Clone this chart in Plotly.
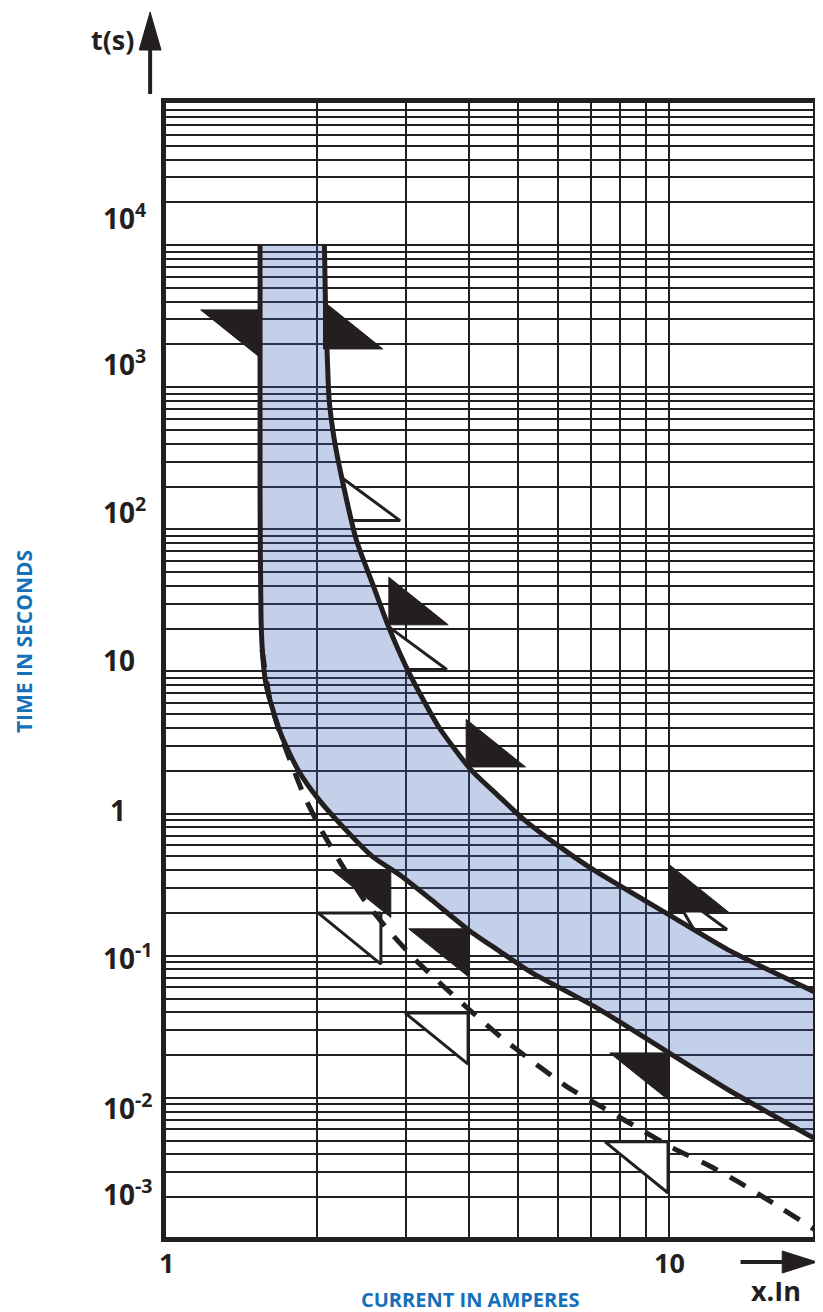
import numpy as np
import plotly.graph_objects as go

# ---------------- data ----------------
# upper boundary of the tripping band (multiple of In, time in s)
upper_x = [2.065, 2.074, 2.09, 2.11, 2.16, 2.24, 2.39, 2.57, 2.77, 3.04, 3.48,
           4.04, 4.56, 5.16, 6.0, 7.09, 10.0, 13.1, 19.6]
upper_t = [10000, 4100, 1800, 815, 430, 223, 84, 42, 20.6, 9.8, 4.1,
           2.03, 1.35, 0.90, 0.60, 0.40, 0.194, 0.11, 0.055]

# lower boundary of the tripping band
lower_x = [1.538, 1.538, 1.545, 1.559, 1.581, 1.624, 1.70, 1.83, 2.0, 2.21, 2.57,
           2.93, 3.37, 3.99, 4.56, 5.3, 7.18, 10.0, 13.1, 19.6]
lower_t = [10000, 161, 23, 12.1, 8.05, 5.64, 3.47, 2.03, 1.29, 0.86, 0.50,
           0.365, 0.247, 0.152, 0.110, 0.077, 0.043, 0.0207, 0.0114, 0.0051]

# dashed (cold-state) curve
dashed_x = [1.552, 1.609, 1.676, 1.763, 1.886, 2.046, 2.23, 2.476, 2.786, 3.148, 3.591,
            4.096, 4.628, 5.301, 6.27, 7.346, 8.61, 10.18, 11.94, 13.73, 16.09, 19.56]
dashed_t = [14.2, 6.31, 3.88, 2.39, 1.31, 0.743, 0.443, 0.247, 0.147, 0.0918, 0.0593,
            0.0389, 0.0268, 0.0185, 0.01195, 0.00863, 0.00624, 0.00443, 0.00337, 0.00256,
            0.00182, 0.00117]

# tolerance flags (anchor points on the curves)
black_right_x = [2.056, 2.773, 3.95, 10.0]
black_right_t = [1860, 21.3, 2.13, 0.203]
black_left_x = [1.538, 2.798, 3.985, 10.0]
black_left_t = [3500, 0.402, 0.1545, 0.0207]
white_right_x = [2.24, 2.773, 10.0]
white_right_t = [230, 20.6, 0.305]
white_left_x = [2.674, 3.985, 9.95]
white_left_t = [0.200, 0.0395, 0.0049]

# axes
x_tick_vals = [1, 10]
x_tick_text = ["1", "10"]
x_grid_vals = [2, 3, 4, 5, 6, 7, 8, 9]
y_decades = [1e-3, 1e-2, 1e-1, 1, 10, 100, 1e3, 1e4, 1e5]
y_label_text = ["10<sup>4</sup>", "10<sup>3</sup>", "10<sup>2</sup>", "10", "1",
                "10<sup>-1</sup>", "10<sup>-2</sup>", "10<sup>-3</sup>"]
y_label_pos = [4.199, 3.172, 2.130, 1.082, 0.026, -1.008, -2.064, -2.669]  # log10 positions

# ---------------- styles / layout ----------------
INK = "#231f20"
BLUE = "#1570BA"
BAND = "rgba(60,100,185,0.30)"
FONT = "Open Sans"
BLACK_W, BLACK_H = 0.118, 0.335        # flag size in decades
WHITE_R_W, WHITE_R_H = 0.115, 0.30
WHITE_L_W, WHITE_L_H = 0.125, 0.36

OFF = 8                      # page body margin
W, H = 823 - OFF, 1312 - OFF
PLOT_L, PLOT_R, PLOT_T, PLOT_B = 166, 818, 103, 1237   # window pixels (inner plot area)
ML, MR = PLOT_L - OFF, W - (PLOT_R - OFF)
MT, MB = PLOT_T - OFF, H - (PLOT_B - OFF)
X_RANGE = [0, (PLOT_R - PLOT_L) / 507.0]
Y_RANGE = [5 - (PLOT_B - PLOT_T) / 142.12, 5]
PW, PH = PLOT_R - PLOT_L, PLOT_B - PLOT_T


def px(x):
    return (x - PLOT_L) / PW


def py(y):
    return (PLOT_B - y) / PH


def upper_x_at(t):
    lt = np.log10(upper_t)[::-1]
    lx = np.log10(upper_x)[::-1]
    return 10 ** np.interp(np.log10(t), lt, lx)


def polys(list_of_vertices):
    xs, ys = [], []
    for verts in list_of_vertices:
        for vx, vy in verts + [verts[0]]:
            xs.append(vx)
            ys.append(vy)
        xs.append(None)
        ys.append(None)
    return xs, ys


fig = go.Figure()

# white flags (below the band)
wr = []
for x, t in zip(white_right_x, white_right_t):
    tb = t / 10 ** WHITE_R_H
    wr.append([(x, t), (x * 10 ** WHITE_R_W, tb), (upper_x_at(tb), tb)])
wl = []
for x, t in zip(white_left_x, white_left_t):
    wl.append([(x, t), (x / 10 ** WHITE_L_W, t), (x, t / 10 ** WHITE_L_H)])
xs, ys = polys(wr + wl)
fig.add_trace(go.Scatter(x=xs, y=ys, mode="lines", fill="toself", fillcolor="white",
                         line=dict(color=INK, width=3), hoverinfo="skip"))

# band fill
band_x = list(lower_x) + list(upper_x)[::-1]
band_t = list(lower_t) + list(upper_t)[::-1]
fig.add_trace(go.Scatter(x=band_x, y=band_t, mode="lines", fill="toself", fillcolor=BAND,
                         line=dict(width=0), hoverinfo="skip"))

# black flags
bl = []
for x, t in zip(black_right_x, black_right_t):
    bl.append([(x, t), (x, t * 10 ** BLACK_H), (x * 10 ** BLACK_W, t)])
for x, t in zip(black_left_x, black_left_t):
    bl.append([(x, t), (x / 10 ** BLACK_W, t), (x, t / 10 ** BLACK_H)])
xs, ys = polys(bl)
fig.add_trace(go.Scatter(x=xs, y=ys, mode="lines", fill="toself", fillcolor=INK,
                         line=dict(color=INK, width=1), hoverinfo="skip"))

# curves
fig.add_trace(go.Scatter(x=dashed_x, y=dashed_t, mode="lines",
                         line=dict(color=INK, width=5, dash="18px,14px", shape="spline", smoothing=0.6)))
fig.add_trace(go.Scatter(x=lower_x, y=lower_t, mode="lines",
                         line=dict(color=INK, width=5, shape="spline", smoothing=0.6)))
fig.add_trace(go.Scatter(x=upper_x, y=upper_t, mode="lines",
                         line=dict(color=INK, width=5, shape="spline", smoothing=0.6)))

y_minor = [k * d for d in y_decades[:-1] for k in range(2, 10)]

fig.update_xaxes(type="log", range=X_RANGE, tickmode="array", tickvals=x_tick_vals,
                 ticktext=x_tick_text, showticklabels=False, ticks="", showgrid=True,
                 gridcolor=INK, gridwidth=1.8,
                 minor=dict(tickmode="array", tickvals=x_grid_vals, showgrid=True,
                            gridcolor=INK, gridwidth=1.8, ticks=""),
                 showline=True, linecolor=INK, linewidth=5, mirror=True, zeroline=False)
fig.update_yaxes(type="log", range=Y_RANGE, tickmode="array", tickvals=y_decades,
                 showticklabels=False, ticks="", showgrid=True, gridcolor=INK, gridwidth=1.6,
                 minor=dict(tickmode="array", tickvals=y_minor, showgrid=True,
                            gridcolor=INK, gridwidth=1.6, ticks=""),
                 showline=True, linecolor=INK, linewidth=5, mirror=True, zeroline=False)

bold = dict(family=FONT, color=INK, weight="bold")
ann = []
for txt, pos in zip(y_label_text, y_label_pos):
    if txt == "1":
        ax, anc = px(118), "center"
    else:
        ax, anc = px(100), "left"
    ann.append(dict(text=txt, x=ax, xref="paper", y=pos, yref="y", xanchor=anc,
                    yanchor="middle", showarrow=False, font=dict(size=28, **bold)))
for v, txt in zip(x_tick_vals, x_tick_text):
    ann.append(dict(text=txt, x=np.log10(v), xref="x", y=py(1262), yref="paper",
                    xanchor="center", yanchor="middle", showarrow=False,
                    font=dict(size=27, **bold)))
ann.append(dict(text="t(s)", x=px(112), y=py(40), xref="paper", yref="paper",
                xanchor="center", yanchor="middle",
                showarrow=False, font=dict(size=27, **bold)))
ann.append(dict(text="x.In", x=px(781), y=py(1290), xref="paper", yref="paper",
                xanchor="center", yanchor="middle",
                showarrow=False, font=dict(size=27, **bold)))
ann.append(dict(text="TIME IN SECONDS", x=px(23), y=py(642), xref="paper", yref="paper",
                xanchor="center", yanchor="middle", textangle=-90, showarrow=False,
                font=dict(family=FONT, size=21, color=BLUE, weight="bold")))
ann.append(dict(text="CURRENT IN AMPERES", x=px(472), y=py(1299), xref="paper", yref="paper",
                xanchor="center", yanchor="middle", showarrow=False,
                font=dict(family=FONT, size=20, color=BLUE, weight="bold")))

shapes = [
    dict(type="line", xref="paper", yref="paper", x0=px(150), x1=px(150), y0=py(94), y1=py(46),
         line=dict(color=INK, width=4)),
    dict(type="path", xref="paper", yref="paper",
         path=f"M {px(150)} {py(12)} L {px(139)} {py(50)} L {px(161)} {py(50)} Z",
         fillcolor=INK, line=dict(color=INK, width=1)),
    dict(type="line", xref="paper", yref="paper", x0=px(745), x1=px(792), y0=py(1262), y1=py(1262),
         line=dict(color=INK, width=4)),
    dict(type="path", xref="paper", yref="paper",
         path=f"M {px(822)} {py(1262)} L {px(787)} {py(1251)} L {px(787)} {py(1273)} Z",
         fillcolor=INK, line=dict(color=INK, width=1)),
]

fig.update_layout(width=W, height=H, margin=dict(l=ML, r=MR, t=MT, b=MB),
                  paper_bgcolor="white", plot_bgcolor="white", showlegend=False,
                  annotations=ann, shapes=shapes)

fig.write_html("out.html")
